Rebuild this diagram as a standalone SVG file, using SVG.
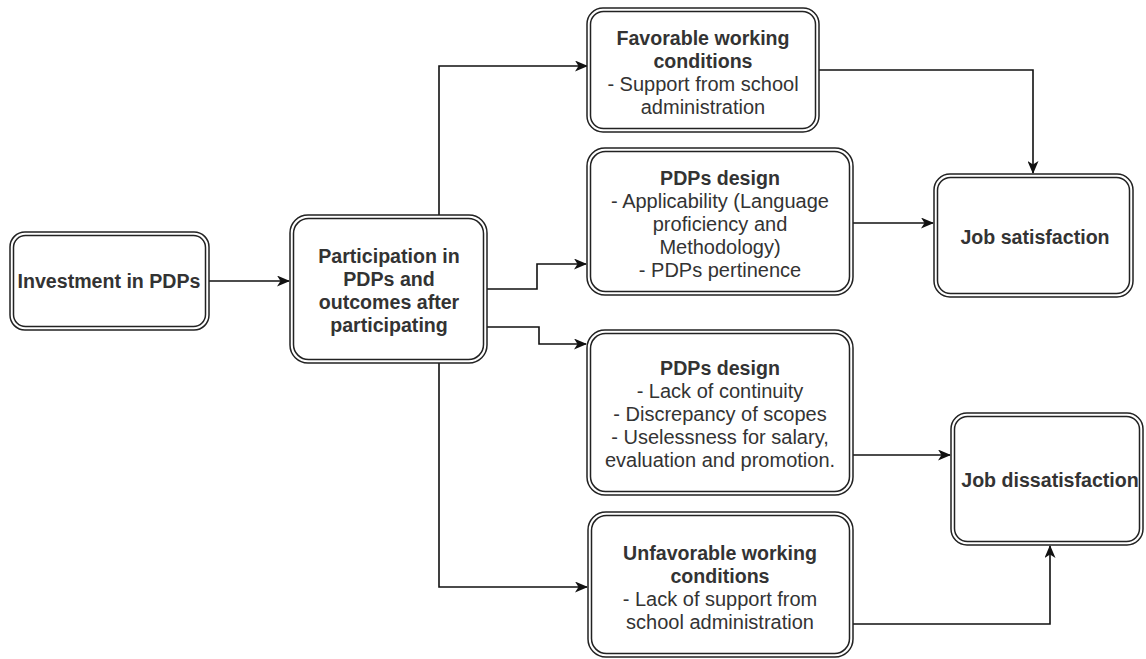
<svg xmlns="http://www.w3.org/2000/svg" width="1146" height="659" viewBox="0 0 1146 659">
<style>
.o{fill:#fff;stroke:#222;stroke-width:1.5}
.i{fill:none;stroke:#222;stroke-width:1.5}
.t{font-family:"Liberation Sans",Arial,sans-serif;font-size:20px;fill:#333;text-anchor:middle}
.b{font-weight:bold;font-size:19.6px}
.c{fill:none;stroke:#111;stroke-width:1.6}
</style>
<defs>
<marker id="ar" viewBox="0 0 13 11" refX="12" refY="5.5" markerWidth="13" markerHeight="11" markerUnits="userSpaceOnUse" orient="auto">
<path d="M0,0 L13,5.5 L0,11 L3.5,5.5 Z" fill="#111"/>
</marker>
</defs>
<rect width="1146" height="659" fill="#fff"/>
<g id="connectors">
<path class="c" d="M209,281 H289" marker-end="url(#ar)"/>
<path class="c" d="M439,215 V66 H587" marker-end="url(#ar)"/>
<path class="c" d="M439,363 V587 H587" marker-end="url(#ar)"/>
<path class="c" d="M487,289 H537 V264 H586" marker-end="url(#ar)"/>
<path class="c" d="M487,327 H539 V344 H586" marker-end="url(#ar)"/>
<path class="c" d="M819,70 H1033 V173" marker-end="url(#ar)"/>
<path class="c" d="M853,223 H933" marker-end="url(#ar)"/>
<path class="c" d="M853,455 H950" marker-end="url(#ar)"/>
<path class="c" d="M853,624 H1050 V546" marker-end="url(#ar)"/>
</g>
<g id="n-investment">
<rect class="o" x="10" y="232" width="199" height="98" rx="15"/>
<rect class="i" x="13.5" y="235.5" width="192" height="91" rx="12"/>
<text class="t b" x="109" y="288">Investment in PDPs</text>
</g>
<g id="n-participation">
<rect class="o" x="290" y="215" width="197" height="148" rx="18"/>
<rect class="i" x="293.5" y="218.5" width="190" height="141" rx="15"/>
<text class="t b" x="389" y="263">Participation in</text>
<text class="t b" x="389" y="286">PDPs and</text>
<text class="t b" x="389" y="309">outcomes after</text>
<text class="t b" x="389" y="332">participating</text>
</g>
<g id="n-favorable">
<rect class="o" x="587" y="8" width="232" height="124" rx="16"/>
<rect class="i" x="590.5" y="11.5" width="225" height="117" rx="13"/>
<text class="t b" x="703" y="45">Favorable working</text>
<text class="t b" x="703" y="68">conditions</text>
<text class="t" x="703" y="91">- Support from school</text>
<text class="t" x="703" y="114">administration</text>
</g>
<g id="n-design1">
<rect class="o" x="587" y="148" width="266" height="147" rx="18"/>
<rect class="i" x="590.5" y="151.5" width="259" height="140" rx="15"/>
<text class="t b" x="720" y="185">PDPs design</text>
<text class="t" x="720" y="208">- Applicability (Language</text>
<text class="t" x="720" y="231">proficiency and</text>
<text class="t" x="720" y="254">Methodology)</text>
<text class="t" x="720" y="277">- PDPs pertinence</text>
</g>
<g id="n-design2">
<rect class="o" x="587" y="330" width="266" height="165" rx="18"/>
<rect class="i" x="590.5" y="333.5" width="259" height="158" rx="15"/>
<text class="t b" x="720" y="375">PDPs design</text>
<text class="t" x="720" y="398">- Lack of continuity</text>
<text class="t" x="720" y="421">- Discrepancy of scopes</text>
<text class="t" x="720" y="444">- Uselessness for salary,</text>
<text class="t" x="720" y="467">evaluation and promotion.</text>
</g>
<g id="n-unfavorable">
<rect class="o" x="588" y="512" width="265" height="145" rx="18"/>
<rect class="i" x="591.5" y="515.5" width="258" height="138" rx="15"/>
<text class="t b" x="720" y="560">Unfavorable working</text>
<text class="t b" x="720" y="583">conditions</text>
<text class="t" x="720" y="606">- Lack of support from</text>
<text class="t" x="720" y="629">school administration</text>
</g>
<g id="n-satisfaction">
<rect class="o" x="934" y="174" width="199" height="123" rx="16"/>
<rect class="i" x="937.5" y="177.5" width="192" height="116" rx="13"/>
<text class="t b" x="1035" y="244">Job satisfaction</text>
</g>
<g id="n-dissatisfaction">
<rect class="o" x="951" y="413" width="192" height="132" rx="16"/>
<rect class="i" x="954.5" y="416.5" width="185" height="125" rx="13"/>
<text class="t b" x="1050" y="487">Job dissatisfaction</text>
</g>
</svg>
